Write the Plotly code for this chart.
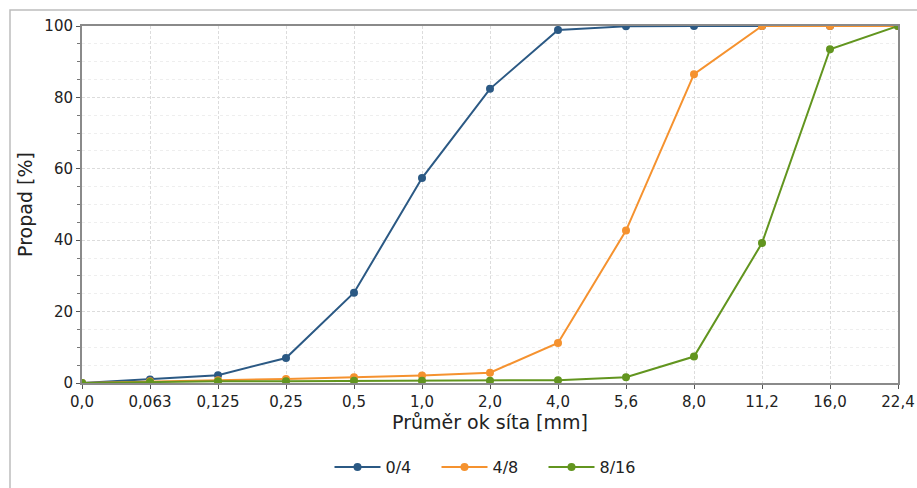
import plotly.graph_objects as go

sieves = ["0,0", "0,063", "0,125", "0,25", "0,5", "1,0", "2,0", "4,0", "5,6", "8,0", "11,2", "16,0", "22,4"]
s_0_4 = [0, 1.0, 2.2, 7.0, 25.3, 57.4, 82.4, 98.9, 99.9, 100, 100, 100, 100]
s_4_8 = [0, 0.5, 0.8, 1.1, 1.6, 2.1, 2.9, 11.2, 42.7, 86.5, 100, 100, 100]
s_8_16 = [0, 0.3, 0.5, 0.5, 0.6, 0.6, 0.6, 0.8, 1.6, 7.4, 39.2, 93.5, 100]
names = ["0/4", "4/8", "8/16"]
colors = ["#2b5984", "#f5922f", "#62951f"]

FONT = "DejaVu Sans"
fig = go.Figure()
for name, vals, col in zip(names, [s_0_4, s_4_8, s_8_16], colors):
    fig.add_trace(go.Scatter(
        x=sieves, y=vals, name=name, mode="lines+markers",
        line=dict(color=col, width=2), marker=dict(color=col, size=8),
    ))

W, H = 917, 488
L, R, T, B = 82, 898, 26, 383
pw, ph = R - L, B - T

def px(x):
    return (x - L) / pw

def py(y):
    return (B - y) / ph

fig.add_shape(type="rect", xref="paper", yref="paper",
              x0=px(10), x1=px(940), y0=py(10), y1=py(520),
              line=dict(color="#bdbdbd", width=1.5), fillcolor="rgba(0,0,0,0)", layer="below")

fig.update_layout(
    width=W, height=H,
    margin=dict(l=L, r=W - R, t=T, b=H - B, autoexpand=False),
    paper_bgcolor="white", plot_bgcolor="white",
    font=dict(family=FONT, size=15, color="#222"),
    showlegend=True,
    legend=dict(orientation="h", x=0.5, xanchor="center", y=py(467), yanchor="middle",
                font=dict(size=16), entrywidth=46, entrywidthmode="pixels",
                itemwidth=46, tracegroupgap=0),
)
fig.update_xaxes(
    type="category", categoryorder="array", categoryarray=sieves,
    range=[0, len(sieves) - 1], automargin=False,
    showline=True, linecolor="#8a8a8a", linewidth=2, mirror=True,
    ticks="outside", ticklen=4, tickcolor="#555",
    showgrid=True, gridcolor="#dcdcdc", griddash="3px,2px", gridwidth=1,
    tickfont=dict(size=15),
    title=dict(text="Průměr ok síta [mm]", font=dict(size=19), standoff=3),
    zeroline=False,
)
fig.update_yaxes(
    range=[0, 100], dtick=20, tick0=0, automargin=False,
    showline=True, linecolor="#8a8a8a", linewidth=2, mirror=True,
    ticks="outside", ticklen=4, tickcolor="#555",
    showgrid=True, gridcolor="#dcdcdc", griddash="3px,2px", gridwidth=1,
    minor=dict(dtick=5, ticks="outside", ticklen=3, tickcolor="#777",
               showgrid=True, gridcolor="#eeeeee", griddash="dot", gridwidth=1),
    tickfont=dict(size=15),
    title=dict(text="Propad [%]", font=dict(size=19), standoff=7),
    zeroline=False,
)

fig.write_html("out.html")
